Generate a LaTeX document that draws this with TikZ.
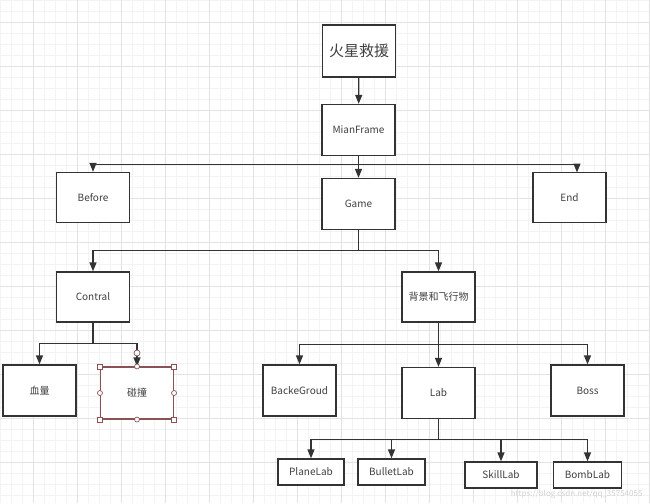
\documentclass[tikz,border=0pt]{standalone}
\usepackage{fontspec}
\setmainfont{Noto Sans CJK SC}
\usetikzlibrary{arrows.meta,calc}
\definecolor{linegray}{HTML}{333333}
\definecolor{gridminor}{HTML}{F3F3F3}
\definecolor{gridmajor}{HTML}{E3E3E3}
\definecolor{handlered}{HTML}{8A5252}
\tikzset{
    every node/.style={font=\fontsize{10}{12}\selectfont,text=black!75},
    block/.style={draw=linegray,line width=1.3pt,fill=white,minimum width=73pt,minimum height=51pt,inner sep=0pt},
    leaf/.style={block,minimum height=26pt},
    link/.style={draw=linegray,line width=1.3pt,-{Triangle[length=9pt,width=7pt]}},
    handle/.style={draw=handlered,fill=white,line width=0.7pt,minimum size=5pt,inner sep=0pt},
    wmarktext/.style={font=\fontsize{8}{9}\selectfont,text=black!18}
}
\begin{document}
\begin{tikzpicture}[x=1pt,y=-1pt]
\useasboundingbox (0,0) rectangle (650,503);
% grid
\foreach \gx in {0,11,...,649}
    \draw[gridminor,line width=0.6pt] (\gx,0) -- (\gx,503);
\foreach \gy in {0,11,...,502}
    \draw[gridminor,line width=0.6pt] (0,\gy) -- (650,\gy);
\foreach \gx in {33,77,...,649}
    \draw[gridmajor,line width=0.8pt] (\gx,0) -- (\gx,503);
\foreach \gy in {22,66,...,502}
    \draw[gridmajor,line width=0.8pt] (0,\gy) -- (650,\gy);

% boxes
\node[block,minimum height=52pt,font=\fontsize{15}{17}\selectfont] (title) at (359,51) {火星救援};
\node[block] (mian) at (358.5,130) {MianFrame};
\node[block,minimum height=50pt] (before) at (93,197.5) {Before};
\node[block] (game) at (358.5,204) {Game};
\node[block,minimum height=50pt] (endb) at (569.5,197.5) {End};
\coordinate (endin) at (577,172.5);
\node[block,minimum height=50pt] (contral) at (93,297) {Contral};
\node[block,minimum height=50pt] (bgfly) at (438.5,297) {背景和飞行物};
\node[block] (xue) at (39.5,390.5) {血量};
\node[block,draw=handlered,line width=1.1pt,minimum height=52pt] (peng) at (137,393) {碰撞};
\node[block] (backe) at (299.5,390.5) {BackeGroud};
\node[block] (lab) at (438.5,393) {Lab};
\node[block] (boss) at (587.5,390.5) {Boss};
\node[leaf,minimum width=66pt] (plane) at (311,472) {PlaneLab};
\node[leaf,minimum width=67pt] (bullet) at (391.5,472) {BulletLab};
\node[leaf,minimum width=72pt] (skill) at (501,475) {SkillLab};
\node[leaf,minimum width=68pt] (bomb) at (587.5,475) {BombLab};

% connectors
\draw[link] (title) -- (mian);
\foreach \t in {before,game,endin}
    \draw[link] (mian.south) -- ++(0,8) -| (\t);
\foreach \t in {contral,bgfly}
    \draw[link] (game.south) -- ++(0,20) -| (\t.north);
\foreach \t in {xue,peng}
    \draw[link] (contral.south) -- ++(0,21) -| (\t.north);
\foreach \t in {backe,lab,boss}
    \draw[link] (bgfly.south) -- ++(0,22) -| (\t.north);
\foreach \t in {plane,bullet,skill,bomb}
    \draw[link] (lab.south) -- ++(0,20.5) -| (\t.north);

% selection handles
\foreach \a/\nm in {north west/hnw,north east/hne,south west/hsw,south east/hse}
    \node[handle] (\nm) at (peng.\a) {};
\foreach \a/\nm in {north/hn,south/hs,west/hw,east/he}
    \node[handle,circle] (\nm) at (peng.\a) {};
\node[handle,circle,minimum size=6pt] (htip) at (137,353) {};

\node[wmarktext,anchor=east] (wmark) at (646,494) {https://blog.csdn.net/qq\_35754055};
\end{tikzpicture}
\end{document}
